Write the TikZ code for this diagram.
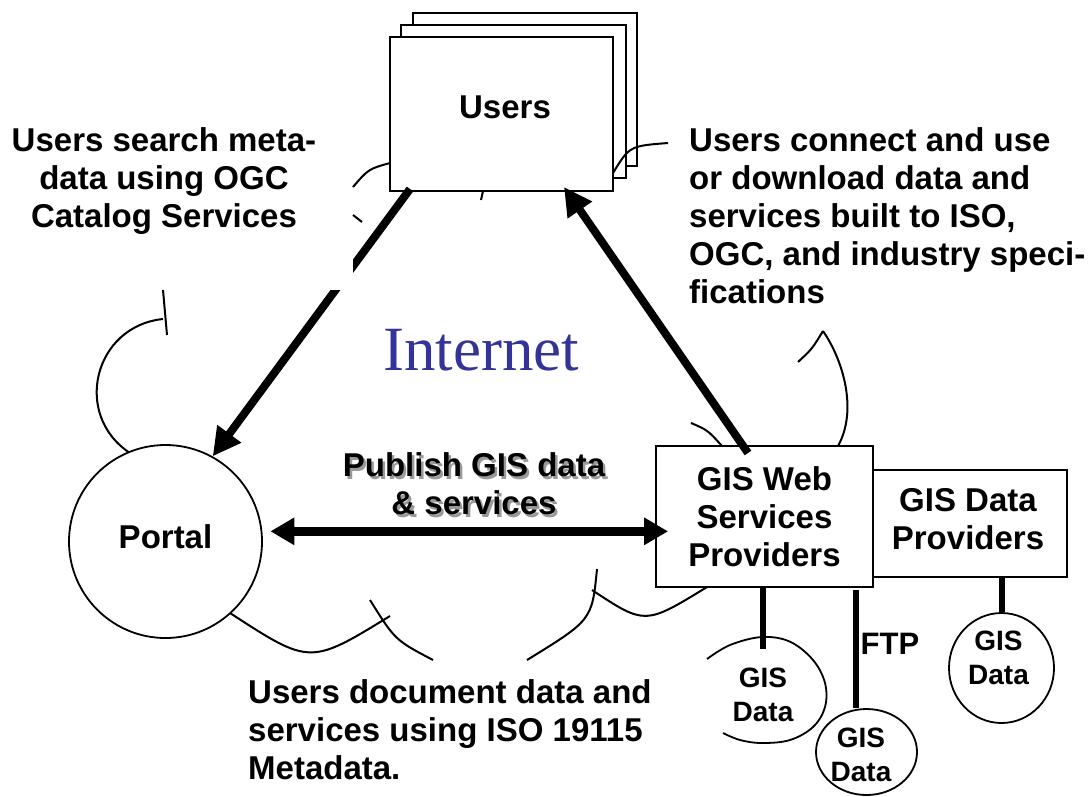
\documentclass[tikz,border=0pt]{standalone}
\usepackage{fontspec}
\setmainfont{Liberation Sans}
\newfontfamily\serifx{Liberation Serif}
\usetikzlibrary{arrows.meta,shapes.geometric,calc}
\definecolor{netblue}{RGB}{51,51,153}
\begin{document}
\begin{tikzpicture}[x=1pt,y=-1pt,
  box/.style={draw, line width=1.8pt, fill=white, inner sep=0pt},
  tx/.style={font=\fontsize{33}{38}\selectfont\bfseries, inner sep=0pt},
  sm/.style={font=\fontsize{28}{34}\selectfont\bfseries, inner sep=0pt, align=center},
  cloudarc/.style={line width=2pt},
  bigarrow/.style={line width=8pt, -{Triangle[length=28pt,width=28pt]}},
  dblarrow/.style={line width=8.5pt, {Triangle[length=24pt,width=26pt]}-{Triangle[length=24pt,width=26pt]}},
  stick/.style={line width=6pt},
  gdshape/.style={draw, shape=ellipse, line width=1.8pt, fill=white, inner sep=0pt}
]
\useasboundingbox (0,0) rectangle (1091,796);

% cloud outline pieces
\draw[cloudarc] (390,163) .. controls (368.5,169) .. (353,187);
\draw[cloudarc] (353,215) -- (362,222);
\draw[cloudarc] (483,191) -- (481,200);
\draw[cloudarc] (163,290) -- (167,335);
\draw[cloudarc] (163,319) .. controls (94,326) and (72,415) .. (130,453);
\draw[cloudarc] (798,362) .. controls (812,349) .. (823,331);
\draw[cloudarc] (823,331) .. controls (843,360) and (858,410) .. (838,446);
\draw[cloudarc] (691,423) .. controls (707.5,430) .. (722,446);
\draw[cloudarc] (230,613) .. controls (310,665) .. (390,616);
\draw[cloudarc] (370,600) .. controls (395,640) .. (433,660);
\draw[cloudarc] (597,569) .. controls (592,620) .. (527,660);
\draw[cloudarc] (592,590) .. controls (645,625) .. (707,587);

% users stack
\node[box, minimum width=224pt, minimum height=153pt] (u3) at (525,89.5) {};
\node[box, minimum width=225pt, minimum height=153pt] (u2) at (513.5,101.5) {};
\draw[cloudarc] (613,173) .. controls (629.5,146) .. (668,143);
\node[box, minimum width=223pt, minimum height=154pt] (u1) at (501.5,114) {};
\node[tx] (ulbl) at (505,107) {Users};

% portal
\node[box, tx, shape=circle, minimum size=193pt, text depth=9pt] (portal) at (165.5,541.5) {Portal};

% providers
\node[box, tx, align=center, minimum width=198pt, minimum height=107pt] (dp) at (968,523.5) {};
\node[tx, align=center] (dplbl) at (968,519.5) {GIS Data\\Providers};
\node[box, tx, align=center, minimum width=217pt, minimum height=141pt] (web) at (764.5,516.5) {GIS Web\\Services\\Providers};

% GIS data stores
\draw[line width=1.8pt] plot[smooth, tension=0.6] coordinates {(707,659) (730,645) (762,637) (790,641.7) (813,660) (825,683) (825,707) (813,727) (790,740) (762,743) (740,740) (723,733)};
\node[gdshape, minimum width=101pt, minimum height=86pt] (gd2) at (866.5,752) {};
\node[gdshape, minimum width=105pt, minimum height=110pt] (gd3) at (1001.5,668) {};
\node[sm] (gd1lbl) at (763,695) {GIS\\Data};
\node[sm] (gd2lbl) at (861,754.5) {GIS\\Data};
\node[sm] (gd3lbl) at (998.5,657.5) {GIS\\Data};

\coordinate (gd1top) at (763,649);
\coordinate (ftptop) at (856,590);
\draw[stick] (gd1top |- web.south) -- (gd1top);
\draw[stick] (ftptop) -- (ftptop |- gd2.north);
\draw[stick] (gd3.north |- dp.south) -- (gd3.north);
\node[font=\fontsize{31}{36}\selectfont\bfseries, inner sep=0pt] (ftp) at (890,643.5) {FTP};

% arrows
\coordinate (ua) at (410,189);
\coordinate (ub) at (564,187);
\coordinate (wb) at (748,453);
\draw[bigarrow] (ua) -- (portal.61);
\draw[bigarrow] (wb) -- (ub);
\fill[white] (310,245) rectangle (353,290);
\draw[dblarrow, shorten <=8pt, shorten >=-13pt] (portal.6) -- (web.west |- portal.6);

% texts
\node[tx, align=center] (t1) at (164,181) {Users search meta-\\data using OGC\\Catalog Services};
\node[tx, align=left, anchor=west] (t2) at (689,216) {Users connect and use\\or download data and\\services built to ISO,\\OGC, and industry speci-\\fications};
\node[tx, align=left, anchor=west] (t3) at (248,730) {Users document data and\\services using ISO 19115\\Metadata.};
\node[font=\serifx\fontsize{63}{70}\selectfont, text=netblue, inner sep=0pt] (net) at (481,350) {Internet};
\node[tx, align=center, text=black!40] (pubsh) at (476.5,486.5) {Publish GIS data\\\& services};
\node[tx, align=center] (pub) at (474,484) {Publish GIS data\\\& services};
\end{tikzpicture}
\end{document}
